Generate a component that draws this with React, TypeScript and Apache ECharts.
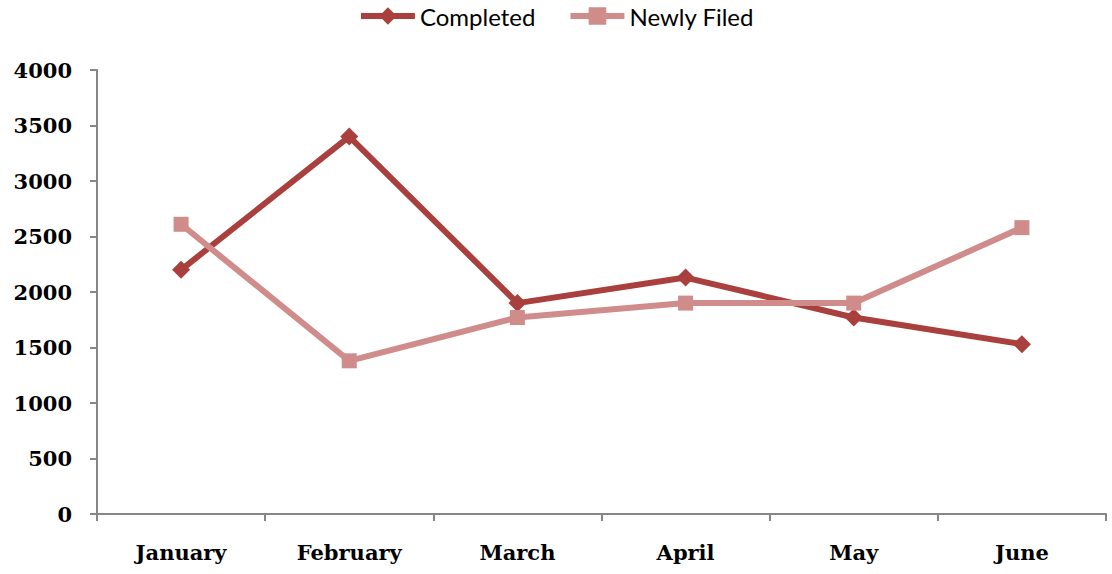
import React, { useEffect, useRef } from "react";
import * as echarts from "echarts";

const months = ["January", "February", "March", "April", "May", "June"];
const completed = [2200, 3400, 1900, 2130, 1770, 1530];
const newlyFiled = [2610, 1380, 1770, 1900, 1900, 2580];
const yTicks = { min: 0, max: 4000, interval: 500 };

export default function App() {
  const ref = useRef<HTMLDivElement>(null);
  useEffect(() => {
    document.body.style.margin = "0";
    const chart = echarts.init(ref.current!, undefined, { renderer: "svg" });
    const serif = "DejaVu Serif";
    chart.setOption({
      animation: false,
      backgroundColor: "#ffffff",
      legend: {
        top: -1,
        left: "center",
        itemWidth: 54,
        itemHeight: 22,
        itemGap: 32,
        lineStyle: { width: 6 },
        textStyle: { fontFamily: "Lato", fontSize: 24, color: "#000" },
        data: ["Completed", "Newly Filed"],
      },
      grid: { left: 97, right: 6, top: 70, bottom: 60 },
      xAxis: {
        type: "category",
        data: months,
        boundaryGap: true,
        axisLine: { lineStyle: { color: "#868686", width: 2 } },
        axisTick: { show: true, length: 7, lineStyle: { color: "#868686", width: 2 } },
        axisLabel: { fontFamily: serif, fontWeight: "bold", fontSize: 21, color: "#000", margin: 28 },
      },
      yAxis: {
        type: "value",
        min: yTicks.min,
        max: yTicks.max,
        interval: yTicks.interval,
        splitLine: { show: false },
        axisLine: { show: true, lineStyle: { color: "#868686", width: 2 } },
        axisTick: { show: true, length: 7, lineStyle: { color: "#868686", width: 2 } },
        axisLabel: {
          fontFamily: serif,
          fontWeight: "bold",
          fontSize: 21,
          color: "#000",
          margin: 25,
          formatter: (v: number) => String(v),
        },
      },
      series: [
        {
          name: "Completed",
          type: "line",
          data: completed,
          symbol: "diamond",
          symbolSize: 18,
          color: "#A9403D",
          lineStyle: { width: 6, color: "#A9403D" },
          itemStyle: { color: "#A9403D" },
        },
        {
          name: "Newly Filed",
          type: "line",
          data: newlyFiled,
          symbol: "rect",
          symbolSize: 15,
          color: "#D08C8A",
          lineStyle: { width: 6, color: "#D08C8A" },
          itemStyle: { color: "#D08C8A" },
        },
      ],
    });
    return () => chart.dispose();
  }, []);
  return <div ref={ref} style={{ width: 1112, height: 574 }} />;
}
